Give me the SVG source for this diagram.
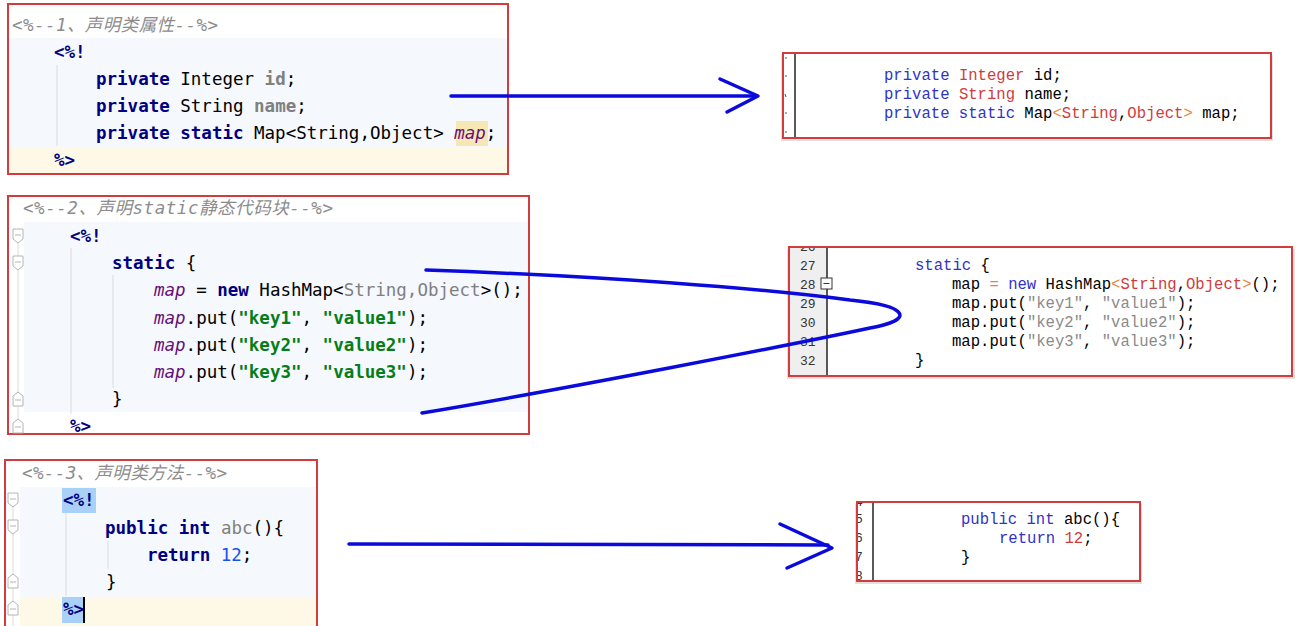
<svg xmlns="http://www.w3.org/2000/svg" width="1300" height="626" viewBox="0 0 1300 626" xml:space="preserve">
<style>
.ide{font-family:"DejaVu Sans Mono","Liberation Mono",monospace;font-size:17.5px;fill:#000}
.cmt{font-family:"DejaVu Sans Mono","Noto Sans CJK SC",monospace;font-size:17.5px;font-style:italic;fill:#8c8c8c}
.kw{font-weight:bold;fill:#000080}
.gr{fill:#808080}
.grb{fill:#808080;font-weight:bold}
.fld{fill:#660e7a;font-style:italic}
.str{fill:#067d17;font-weight:bold}
.num{fill:#1750eb}
.cn{font-family:"Liberation Mono","Courier New",monospace;font-size:15.6px;fill:#000}
.ckw{fill:#3232c8}
.cty{fill:#d03c3c}
.cop{fill:#e6823c}
.cstr{fill:#8a8a8a}
.ln{font-family:"Liberation Mono",monospace;font-size:13px;fill:#333}
.box{fill:#fff;stroke:#d23c3c;stroke-width:2}
.shadow{fill:#000;opacity:0.12}
.band{fill:#f5f8fc}
.yel{fill:#fdf9e6}
.guide{stroke:#dcdcdc;stroke-width:1}
.fold{fill:#fff;stroke:#b4b4b4;stroke-width:1}
.conn{fill:none;stroke:#0a0adc;stroke-width:3.5;stroke-linecap:round;stroke-linejoin:round}
</style>
<defs>
<clipPath id="c4"><rect x="790" y="248" width="502" height="127"/></clipPath>
<clipPath id="c6"><rect x="858" y="503" width="281" height="77"/></clipPath>
<g id="foldDown"><path class="fold" d="M-5,-7 H5 V3 L0,7 L-5,3 Z"/><line x1="-3" y1="-1" x2="3" y2="-1" stroke="#b4b4b4"/></g>
<g id="foldUp"><path class="fold" d="M-5,7 H5 V-3 L0,-7 L-5,-3 Z"/><line x1="-3" y1="1" x2="3" y2="1" stroke="#b4b4b4"/></g>
</defs>
<rect width="1300" height="626" fill="#fff"/>

<g id="node-jsp-fields">
<rect class="box" x="8" y="4" width="500" height="170"/>
<rect class="band" x="9" y="38" width="498" height="109"/>
<rect class="yel" x="9" y="147" width="498" height="26"/>
<line class="guide" x1="57" y1="65" x2="57" y2="146"/>
<rect x="456" y="121" width="32" height="25" fill="#f7e7b4"/>
<text class="cmt" x="12" y="31" textLength="206" lengthAdjust="spacing">&lt;%--1、声明类属性--%&gt;</text>
<text class="ide" x="54" y="58"><tspan class="kw">&lt;%!</tspan></text>
<text class="ide" x="96" y="85"><tspan class="kw">private</tspan> Integer <tspan class="grb">id</tspan>;</text>
<text class="ide" x="96" y="112"><tspan class="kw">private</tspan> String <tspan class="grb">name</tspan>;</text>
<text class="ide" x="96" y="139"><tspan class="kw">private static</tspan> Map&lt;String,Object&gt; <tspan class="fld">map</tspan>;</text>
<text class="ide" x="54" y="166"><tspan class="kw">%&gt;</tspan></text>
</g>

<g id="node-java-fields">
<rect class="shadow" x="781" y="55" width="492" height="86"/>
<rect class="box" x="783" y="53" width="488" height="85"/>
<line x1="795" y1="54" x2="795" y2="137" stroke="#222" stroke-width="1.5"/>
<g stroke="#555" stroke-width="1">
<line x1="785" y1="58" x2="787" y2="58"/><line x1="785" y1="76" x2="787" y2="76"/>
<line x1="785" y1="94" x2="786" y2="97"/><line x1="785" y1="113" x2="787" y2="113"/><line x1="785" y1="132" x2="787" y2="132"/>
</g>
<text class="cn" x="884" y="80"><tspan class="ckw">private</tspan> <tspan class="cty">Integer</tspan> id;</text>
<text class="cn" x="884" y="99"><tspan class="ckw">private</tspan> <tspan class="cty">String</tspan> name;</text>
<text class="cn" x="884" y="118"><tspan class="ckw">private static</tspan> Map<tspan class="cop">&lt;</tspan><tspan class="cty">String</tspan>,<tspan class="cty">Object</tspan><tspan class="cop">&gt;</tspan> map;</text>
</g>

<g id="node-jsp-static">
<rect class="box" x="8" y="196" width="521" height="238"/>
<rect class="band" x="24" y="222" width="504" height="190"/>
<line class="guide" x1="18" y1="236" x2="18" y2="432"/>
<use href="#foldDown" x="18" y="236"/>
<use href="#foldDown" x="18" y="263"/>
<use href="#foldUp" x="18" y="399"/>
<use href="#foldUp" x="18" y="426"/>
<line class="guide" x1="71" y1="248" x2="71" y2="414"/>
<line class="guide" x1="113" y1="275" x2="113" y2="388"/>
<text class="cmt" x="23" y="214" textLength="310" lengthAdjust="spacing">&lt;%--2、声明static静态代码块--%&gt;</text>
<text class="ide" x="70" y="242"><tspan class="kw">&lt;%!</tspan></text>
<text class="ide" x="112" y="269"><tspan class="kw">static</tspan> {</text>
<text class="ide" x="154" y="296"><tspan class="fld">map</tspan> = <tspan class="kw">new</tspan> HashMap&lt;<tspan class="gr">String,Object</tspan>&gt;();</text>
<text class="ide" x="154" y="324"><tspan class="fld">map</tspan>.put(<tspan class="str">"key1"</tspan>, <tspan class="str">"value1"</tspan>);</text>
<text class="ide" x="154" y="351"><tspan class="fld">map</tspan>.put(<tspan class="str">"key2"</tspan>, <tspan class="str">"value2"</tspan>);</text>
<text class="ide" x="154" y="378"><tspan class="fld">map</tspan>.put(<tspan class="str">"key3"</tspan>, <tspan class="str">"value3"</tspan>);</text>
<text class="ide" x="112" y="405">}</text>
<text class="ide" x="70" y="432"><tspan class="kw">%&gt;</tspan></text>
</g>

<g id="node-java-static">
<rect class="shadow" x="787" y="249" width="508" height="130"/>
<rect class="box" x="789" y="247" width="503" height="129"/>
<rect x="790" y="248" width="37" height="127" fill="#efefef"/>
<line x1="827" y1="248" x2="827" y2="375" stroke="#222" stroke-width="1.5"/>
<g clip-path="url(#c4)">
<text class="ln" x="800" y="251">26</text>
</g>
<text class="ln" x="800" y="270">27</text>
<text class="ln" x="800" y="289">28</text>
<text class="ln" x="800" y="308">29</text>
<text class="ln" x="800" y="327">30</text>
<text class="ln" x="800" y="346">31</text>
<text class="ln" x="800" y="365">32</text>
<rect x="821" y="278" width="11" height="11" fill="#fff" stroke="#333" stroke-width="1"/>
<line x1="823.5" y1="283.5" x2="829.5" y2="283.5" stroke="#333" stroke-width="1"/>
<text class="cn" x="915" y="270"><tspan class="ckw">static</tspan> {</text>
<text class="cn" x="952" y="289">map <tspan class="cop">=</tspan> <tspan class="ckw">new</tspan> HashMap<tspan class="cop">&lt;</tspan><tspan class="cty">String</tspan>,<tspan class="cty">Object</tspan><tspan class="cop">&gt;</tspan>();</text>
<text class="cn" x="952" y="308">map.put(<tspan class="cstr">"key1"</tspan>, <tspan class="cstr">"value1"</tspan>);</text>
<text class="cn" x="952" y="327">map.put(<tspan class="cstr">"key2"</tspan>, <tspan class="cstr">"value2"</tspan>);</text>
<text class="cn" x="952" y="346">map.put(<tspan class="cstr">"key3"</tspan>, <tspan class="cstr">"value3"</tspan>);</text>
<text class="cn" x="915" y="365" fill="#777">}</text>
</g>

<g id="node-jsp-method">
<rect class="box" x="5" y="460" width="312" height="170"/>
<rect class="band" x="20" y="487" width="296" height="111"/>
<rect class="yel" x="20" y="598" width="296" height="28"/>
<line class="guide" x1="13" y1="500" x2="13" y2="626"/>
<use href="#foldDown" x="13" y="500"/>
<use href="#foldDown" x="13" y="527"/>
<use href="#foldUp" x="13" y="581"/>
<use href="#foldUp" x="13" y="608"/>
<line class="guide" x1="66" y1="513" x2="66" y2="596"/>
<line class="guide" x1="108" y1="541" x2="108" y2="569"/>
<rect x="62" y="488" width="34" height="25" fill="#a9d1f7"/>
<rect x="62" y="597" width="21" height="26" fill="#a9d1f7"/>
<rect x="83" y="597" width="2" height="26" fill="#000"/>
<text class="cmt" x="22" y="479" textLength="205" lengthAdjust="spacing">&lt;%--3、声明类方法--%&gt;</text>
<text class="ide" x="63" y="506"><tspan class="kw">&lt;%!</tspan></text>
<text class="ide" x="105" y="534"><tspan class="kw">public int</tspan> <tspan class="gr">abc</tspan>(){</text>
<text class="ide" x="147" y="561"><tspan class="kw">return</tspan> <tspan class="num">12</tspan>;</text>
<text class="ide" x="106" y="588">}</text>
<text class="ide" x="63" y="615"><tspan class="kw">%&gt;</tspan></text>
</g>

<g id="node-java-method">
<rect class="shadow" x="855" y="504" width="287" height="80"/>
<rect class="box" x="857" y="502" width="283" height="79"/>
<line x1="873" y1="503" x2="873" y2="580" stroke="#222" stroke-width="1.5"/>
<g clip-path="url(#c6)">
<text class="ln" x="855" y="506">4</text>
<text class="ln" x="855" y="523">5</text>
<text class="ln" x="855" y="542">6</text>
<text class="ln" x="855" y="561">7</text>
<text class="ln" x="855" y="580">8</text>
</g>
<text class="cn" x="961" y="524"><tspan class="ckw">public int</tspan> abc(){</text>
<text class="cn" x="999" y="543"><tspan class="ckw">return</tspan> <tspan class="cty">12</tspan>;</text>
<text class="cn" x="961" y="562" fill="#777">}</text>
</g>

<g id="connectors">
<line class="conn" x1="451" y1="96" x2="756" y2="96"/>
<polyline class="conn" points="720,79 758,96 727,112"/>
<path class="conn" d="M426,270 C600,276 760,288 850,300 C910,306 915,320 870,328 C800,343 560,390 422,413"/>
<line class="conn" x1="349" y1="544" x2="828" y2="545"/>
<polyline class="conn" points="780,524 832,548 787,568"/>
</g>
</svg>
